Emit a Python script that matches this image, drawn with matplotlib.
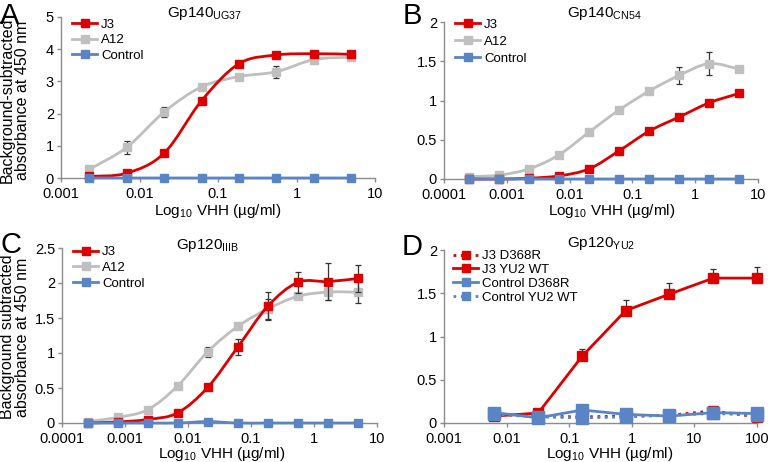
import numpy as np
import matplotlib
matplotlib.use('Agg')
import matplotlib.pyplot as plt
from matplotlib.path import Path
from matplotlib.patches import PathPatch
from matplotlib.lines import Line2D
from matplotlib.ticker import FuncFormatter, LogLocator, NullLocator, MultipleLocator

plt.rcParams['font.family'] = ['Liberation Sans', 'DejaVu Sans']
plt.rcParams['mathtext.fontset'] = 'custom'
plt.rcParams['mathtext.rm'] = 'Liberation Sans'
plt.rcParams['mathtext.it'] = 'Liberation Sans:italic'

rojo = '#DD0000'
gris = '#BFBFBF'
azul = '#5B84C4'
color_eje = '#8C8C8C'
color_err = '#333333'

# Concentraciones (µg/ml): diluciones 1:3 desde 5 (A, B, C) y 1:5 desde 100 (D)
conc_a = [0.00229, 0.00686, 0.0206, 0.0617, 0.185, 0.556, 1.667, 5.0]
conc_bc = [0.000254, 0.000762, 0.00229, 0.00686, 0.0206, 0.0617, 0.185, 0.556, 1.667, 5.0]
conc_d = [0.0064, 0.032, 0.16, 0.8, 4.0, 20.0, 100.0]

# Panel A - Gp140 UG37
a_j3 = [0.05, 0.15, 0.77, 2.40, 3.55, 3.82, 3.86, 3.84]
a_j3_err = [0.02, 0.03, 0.05, 0.05, 0.06, 0.10, 0.06, 0.05]
a_a12 = [0.27, 0.95, 2.05, 2.83, 3.15, 3.30, 3.68, 3.75]
a_a12_err = [0.03, 0.20, 0.15, 0.05, 0.05, 0.18, 0.10, 0.05]
a_ctrl = [0, 0, 0, 0, 0, 0, 0, 0]

# Panel B - Gp140 CN54
b_j3 = [0.0, 0.0, 0.01, 0.04, 0.13, 0.36, 0.61, 0.79, 0.97, 1.09]
b_a12 = [0.03, 0.05, 0.13, 0.31, 0.60, 0.88, 1.12, 1.32, 1.47, 1.40]
b_a12_err = [0, 0, 0, 0.02, 0.02, 0.02, 0.03, 0.11, 0.15, 0.03]
b_ctrl = [0, 0, 0, 0, 0, 0, 0, 0, 0, 0]

# Panel C - Gp120 IIIB
c_j3 = [0.0, 0.015, 0.05, 0.145, 0.51, 1.085, 1.67, 2.01, 2.02, 2.065]
c_j3_err = [0, 0, 0.01, 0.02, 0.04, 0.12, 0.20, 0.15, 0.26, 0.19]
c_a12 = [0.02, 0.08, 0.19, 0.53, 1.02, 1.38, 1.63, 1.81, 1.87, 1.87]
c_a12_err = [0, 0, 0.02, 0.03, 0.07, 0.03, 0.14, 0.04, 0.11, 0.16]
c_ctrl = [0.0, 0.0, 0.0, 0.0, 0.02, 0.0, 0.0, 0.0, 0.0, 0.0]

# Panel D - Gp120 YU2
d_j3_d368r = [0.10, 0.08, 0.07, 0.08, 0.09, 0.14, 0.07]
d_j3_wt = [0.08, 0.115, 0.77, 1.30, 1.49, 1.675, 1.675]
d_j3_wt_err = [0, 0, 0.09, 0.12, 0.13, 0.10, 0.13]
d_ctrl_d368r = [0.12, 0.06, 0.15, 0.10, 0.08, 0.12, 0.11]
d_ctrl_wt = [0.10, 0.07, 0.06, 0.07, 0.09, 0.11, 0.09]


def curva_suave(ax, x, y, color, z):
    # curva Bezier tipo Excel (suavizada), calculada en espacio log10(x)
    lx = np.log10(x)
    y = np.asarray(y, float)
    n = len(x)
    verts = [(x[0], y[0])]
    codes = [Path.MOVETO]
    for i in range(n - 1):
        i0 = max(i - 1, 0)
        i3 = min(i + 2, n - 1)
        c1 = (lx[i] + (lx[i + 1] - lx[i0]) / 6, y[i] + (y[i + 1] - y[i0]) / 6)
        c2 = (lx[i + 1] - (lx[i3] - lx[i]) / 6, y[i + 1] - (y[i3] - y[i]) / 6)
        verts += [(10 ** c1[0], c1[1]), (10 ** c2[0], c2[1]), (x[i + 1], y[i + 1])]
        codes += [Path.CURVE4] * 3
    ax.add_patch(PathPatch(Path(verts, codes), fill=False, edgecolor=color, lw=2.0,
                           zorder=z, clip_on=False))


def serie(ax, x, y, color, z, err=None, suave=True, ls='-', ms=6, solo_arriba=False):
    if err is not None:
        if solo_arriba:
            yerr = [np.zeros(len(err)), err]
        else:
            yerr = err
        ax.errorbar(x, y, yerr=yerr, fmt='none', ecolor=color_err, elinewidth=0.9,
                    capsize=2.5, capthick=0.9, zorder=z - 0.5, clip_on=False)
    if suave:
        curva_suave(ax, x, y, color, z)
        ax.plot(x, y, linestyle='none', marker='s', ms=ms, color=color, zorder=z + 0.1, clip_on=False)
    else:
        ax.plot(x, y, linestyle=ls, lw=2.0, marker='s', ms=ms, color=color, zorder=z, clip_on=False)


def formato(ax, xlim, ylim, paso):
    ax.set_xscale('log')
    ax.set_xlim(*xlim)
    ax.set_ylim(*ylim)
    ax.xaxis.set_major_locator(LogLocator(base=10, numticks=20))
    ax.xaxis.set_minor_locator(NullLocator())
    ax.yaxis.set_major_locator(MultipleLocator(paso))
    fmt = FuncFormatter(lambda v, p: '%g' % v)
    ax.xaxis.set_major_formatter(fmt)
    ax.yaxis.set_major_formatter(fmt)
    for s in ['top', 'right']:
        ax.spines[s].set_visible(False)
    for s in ['left', 'bottom']:
        ax.spines[s].set_color(color_eje)
        ax.spines[s].set_linewidth(1.0)
    ax.tick_params(direction='out', length=3, width=1.0, color=color_eje, labelsize=10.5)
    ax.tick_params(axis='x', pad=3.5)
    ax.tick_params(axis='y', pad=2)


def leyenda(ax, etiquetas, colores, estilos, anchor, esp=0.25):
    handles = [Line2D([], [], color=c, ls=s, lw=2.0, marker='s', ms=6) for c, s in zip(colores, estilos)]
    ax.legend(handles, etiquetas, loc='upper left', bbox_to_anchor=anchor, frameon=False,
              fontsize=9.5, borderpad=0, borderaxespad=0, labelspacing=esp,
              handlelength=1.9, handletextpad=0.3)


fig = plt.figure(figsize=(7.68, 4.62), dpi=100)
ax_a = fig.add_axes([61 / 768, 1 - 178 / 462, 314 / 768, 161 / 462])
ax_b = fig.add_axes([444 / 768, 1 - 179 / 462, 314 / 768, 157 / 462])
ax_c = fig.add_axes([62 / 768, 1 - 423 / 462, 315 / 768, 175 / 462])
ax_d = fig.add_axes([444 / 768, 1 - 423 / 462, 313 / 768, 173 / 462])

# A
serie(ax_a, conc_a, a_a12, gris, 3, err=a_a12_err)
serie(ax_a, conc_a, a_j3, rojo, 4, err=a_j3_err)
serie(ax_a, conc_a, a_ctrl, azul, 5)
formato(ax_a, (0.001, 10), (0, 5), 1)
leyenda(ax_a, ['J3', 'A12', 'Control'], [rojo, gris, azul], ['-', '-', '-'], (0.035, 0.99))

# B
serie(ax_b, conc_bc, b_a12, gris, 3, err=b_a12_err)
serie(ax_b, conc_bc, b_j3, rojo, 4)
serie(ax_b, conc_bc, b_ctrl, azul, 5)
formato(ax_b, (0.0001, 10), (0, 2), 0.5)
leyenda(ax_b, ['J3', 'A12', 'Control'], [rojo, gris, azul], ['-', '-', '-'], (0.035, 1.02), esp=0.35)

# C
serie(ax_c, conc_bc, c_a12, gris, 3, err=c_a12_err)
serie(ax_c, conc_bc, c_j3, rojo, 4, err=c_j3_err)
serie(ax_c, conc_bc, c_ctrl, azul, 5)
formato(ax_c, (0.0001, 10), (0, 2.5), 0.5)
leyenda(ax_c, ['J3', 'A12', 'Control'], [rojo, gris, azul], ['-', '-', '-'], (0.035, 1.01))

# D
serie(ax_d, conc_d, d_j3_d368r, rojo, 3, suave=False, ls=':', ms=7)
serie(ax_d, conc_d, d_j3_wt, rojo, 4, err=d_j3_wt_err, suave=False, ms=7, solo_arriba=True)
serie(ax_d, conc_d, d_ctrl_wt, azul, 5, suave=False, ls=':', ms=8)
serie(ax_d, conc_d, d_ctrl_d368r, azul, 6, suave=False, ms=8)
formato(ax_d, (0.001, 100), (0, 2), 0.5)
leyenda(ax_d, ['J3 D368R', 'J3 YU2 WT', 'Control D368R', 'Control YU2 WT'],
        [rojo, rojo, azul, azul], [':', '-', '-', ':'], (0.03, 1.0), esp=0.12)

# Títulos de paneles
fig.text(205 / 768, 1 - 13 / 462, r'Gp140$_{\mathrm{UG37}}$', fontsize=11, ha='center', va='center')
fig.text(604 / 768, 1 - 13 / 462, r'Gp140$_{\mathrm{CN54}}$', fontsize=11, ha='center', va='center')
fig.text(207 / 768, 1 - 246 / 462, r'Gp120$_{\mathrm{IIIB}}$', fontsize=11, ha='center', va='center')
fig.text(601 / 768, 1 - 244 / 462, r'Gp120$_{\mathrm{YU2}}$', fontsize=11, ha='center', va='center')

# Ejes x
etiqueta_x = r'Log$_{10}$ VHH (µg/ml)'
for cx, cy in [(218, 211), (612, 211), (222, 454), (610, 454)]:
    fig.text(cx / 768, 1 - cy / 462, etiqueta_x, fontsize=11, ha='center', va='center')

# Ejes y
fig.text(15 / 768, 1 - 100 / 462, 'Background-subtracted\nabsorbance at 450 nm', fontsize=11.5,
         rotation=90, ha='center', va='center', multialignment='center', linespacing=1.05)
fig.text(15 / 768, 1 - 337 / 462, 'Background subtracted\nabsorbance at 450 nm', fontsize=11.5,
         rotation=90, ha='center', va='center', multialignment='center', linespacing=1.05)

# Letras de panel
for letra, px, py in [('A', 0, 2), ('B', 403, 2), ('C', 0, 231), ('D', 402, 233)]:
    fig.text(px / 768, 1 - py / 462, letra, fontsize=21, ha='left', va='top')

fig.savefig('out.png', dpi=100)
